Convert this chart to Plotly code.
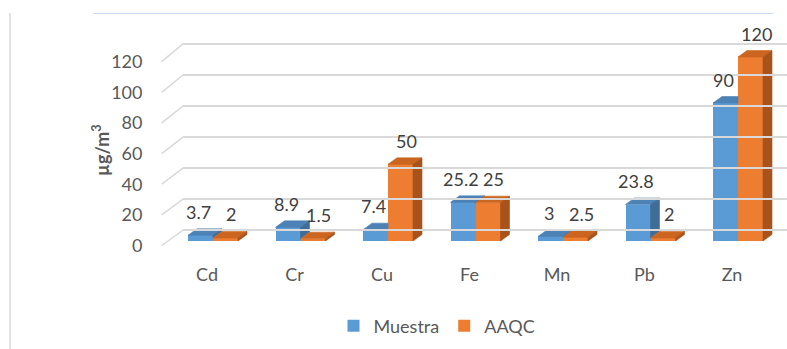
import plotly.graph_objects as go

# ---------------- data ----------------
categories = ['Cd', 'Cr', 'Cu', 'Fe', 'Mn', 'Pb', 'Zn']
muestra = [3.7, 8.9, 7.4, 25.2, 3, 23.8, 90]
aaqc = [2, 1.5, 50, 25, 2.5, 2, 120]
y_ticks = [0, 20, 40, 60, 80, 100, 120]
series_names = ['Muestra', 'AAQC']

# ---------------- geometry (pixels) ----------------
W, H = 787, 349
XC0, XS = 213.0, 87.5          # px of first category centre, px per category
BAR0, BS = 241.0, 1.533        # bar plane: px of value 0, px per unit
FRONT0, FS = 245.5, 1.532      # front plane (tick labels)
BACK0, BKS = 230.0, 1.5525     # back wall (gridlines)
FRONT_X, BACK_X = 161.7, 183.3
BW = 25.0 / XS                  # bar width in category units
DDX_PX, DDY_PX = 9.0, 6.5       # depth of each bar
DDX = DDX_PX / XS
DDY = DDY_PX / BS

FONT = 'Lato'
FS_TXT = 18
TXT = '#595959'
LBL = '#404040'
GRID = '#D9D9D9'

C_BLUE, C_BLUE_TOP, C_BLUE_SIDE = '#5B9BD5', '#4C82B6', '#3F6D98'
C_OR, C_OR_TOP, C_OR_SIDE = '#ED7D31', '#CB651F', '#A8531B'


def fx(px):
    return px / W


def fy(py):
    return 1 - py / H


def bar_v(py):
    return (BAR0 - py) / BS


def front_to_bar(v):
    return bar_v(FRONT0 - FS * v)


fig = go.Figure()

idx = list(range(len(categories)))

# front faces as real bars
fig.add_trace(go.Bar(x=idx, y=muestra, name=series_names[0], width=BW, offset=-BW,
                     marker=dict(color=C_BLUE, line=dict(width=0))))
fig.add_trace(go.Bar(x=idx, y=aaqc, name=series_names[1], width=BW, offset=0,
                     marker=dict(color=C_OR, line=dict(width=0))))

# empty trace so that the back-wall subplot (x2/y3) exists and draws its grid
fig.add_trace(go.Scatter(x=[], y=[], xaxis='x2', yaxis='y3', showlegend=False,
                         hoverinfo='skip'))


def poly(xs, ys, color):
    fig.add_trace(go.Scatter(x=xs + [xs[0]], y=ys + [ys[0]], mode='lines', fill='toself',
                             fillcolor=color, line=dict(color=color, width=0.6),
                             hoverinfo='skip', showlegend=False))


# 3D faces for the blue series (clipped where the orange bar hides them)
for i, (vb, vo) in enumerate(zip(muestra, aaqc)):
    x0, x1 = i - BW, i
    if vb >= vo:
        poly([x0, x1, x1 + DDX, x0 + DDX], [vb, vb, vb + DDY, vb + DDY], C_BLUE_TOP)
        poly([x1, x1, x1 + DDX, x1 + DDX], [vo, vb, vb + DDY, vo + DDY], C_BLUE_SIDE)
    else:
        poly([x0, x1, x1, x0 + DDX], [vb, vb, vb + DDY, vb + DDY], C_BLUE_TOP)

# 3D faces for the orange series
for i, vo in enumerate(aaqc):
    x0, x1 = i, i + BW
    poly([x0, x1, x1 + DDX, x0 + DDX], [vo, vo, vo + DDY, vo + DDY], C_OR_TOP)
    poly([x1, x1, x1 + DDX, x1 + DDX], [0, vo, vo + DDY, DDY], C_OR_SIDE)

# data labels
ann = []
for i, (vb, vo) in enumerate(zip(muestra, aaqc)):
    for v, xc, xs in ((vb, i - BW / 2, -2), (vo, i + BW / 2, 5.5)):
        ann.append(dict(x=xc, y=v, xref='x', yref='y', text=f'{v:g}', showarrow=False,
                        yanchor='middle', xanchor='center', yshift=DDY_PX + 17, xshift=xs,
                        font=dict(family=FONT, size=FS_TXT, color=LBL)))

# y title
ann.append(dict(x=fx(87), y=fy(150), xref='paper', yref='paper', text='<b>µg/m<sup>3</sup></b>',
                showarrow=False, textangle=-90, font=dict(family=FONT, size=FS_TXT, color=TXT)))

# shapes: diagonals of the side wall + frame lines
shapes = []
for t in y_ticks:
    shapes.append(dict(type='line', xref='paper', yref='paper',
                       x0=fx(FRONT_X), y0=fy(FRONT0 - FS * t),
                       x1=fx(BACK_X), y1=fy(BACK0 - BKS * t),
                       line=dict(color=GRID, width=1.5)))
shapes.append(dict(type='line', xref='paper', yref='paper', x0=fx(93), x1=fx(773),
                   y0=fy(13.5), y1=fy(13.5), line=dict(color='#C9DCF0', width=1.2)))
shapes.append(dict(type='line', xref='paper', yref='paper', x0=fx(10), x1=fx(10),
                   y0=fy(13), y1=0, line=dict(color=GRID, width=1.5)))

fig.update_layout(
    width=W, height=H, autosize=False,
    margin=dict(l=0, r=0, t=0, b=0),
    paper_bgcolor='white', plot_bgcolor='rgba(0,0,0,0)',
    barmode='overlay', bargap=0,
    showlegend=True,
    legend=dict(orientation='h', x=fx(437), y=fy(326), xanchor='center', yanchor='middle',
                font=dict(family=FONT, size=FS_TXT, color=TXT), bgcolor='rgba(0,0,0,0)',
                itemwidth=30, traceorder='normal'),
    annotations=ann,
    shapes=shapes,
    xaxis=dict(domain=[0, 1], range=[(0 - XC0) / XS, (W - XC0) / XS],
               tickvals=[i - 6 / XS for i in idx], ticktext=categories,
               anchor='free', position=fy(262), showgrid=False, zeroline=False,
               showline=False, ticks='', tickfont=dict(family=FONT, size=FS_TXT, color=TXT),
               fixedrange=True),
    yaxis=dict(domain=[0, 1], range=[bar_v(H), bar_v(0)],
               tickvals=[front_to_bar(t) for t in y_ticks], ticktext=[str(t) for t in y_ticks],
               anchor='free', position=fx(142.5), showgrid=False, zeroline=False,
               showline=False, ticks='', tickfont=dict(family=FONT, size=FS_TXT, color=TXT),
               fixedrange=True),
    xaxis2=dict(domain=[fx(BACK_X), 1], range=[0, 1], anchor='y3', showgrid=False,
                zeroline=False, showline=False, showticklabels=False, ticks='',
                fixedrange=True),
    yaxis3=dict(domain=[0, 1], range=[(BACK0 - H) / BKS, BACK0 / BKS], anchor='x2',
                tickvals=y_ticks, showgrid=True, gridcolor=GRID, gridwidth=1.5,
                showticklabels=False, zeroline=False, showline=False, ticks='',
                fixedrange=True),
)

fig.write_html('out.html')
